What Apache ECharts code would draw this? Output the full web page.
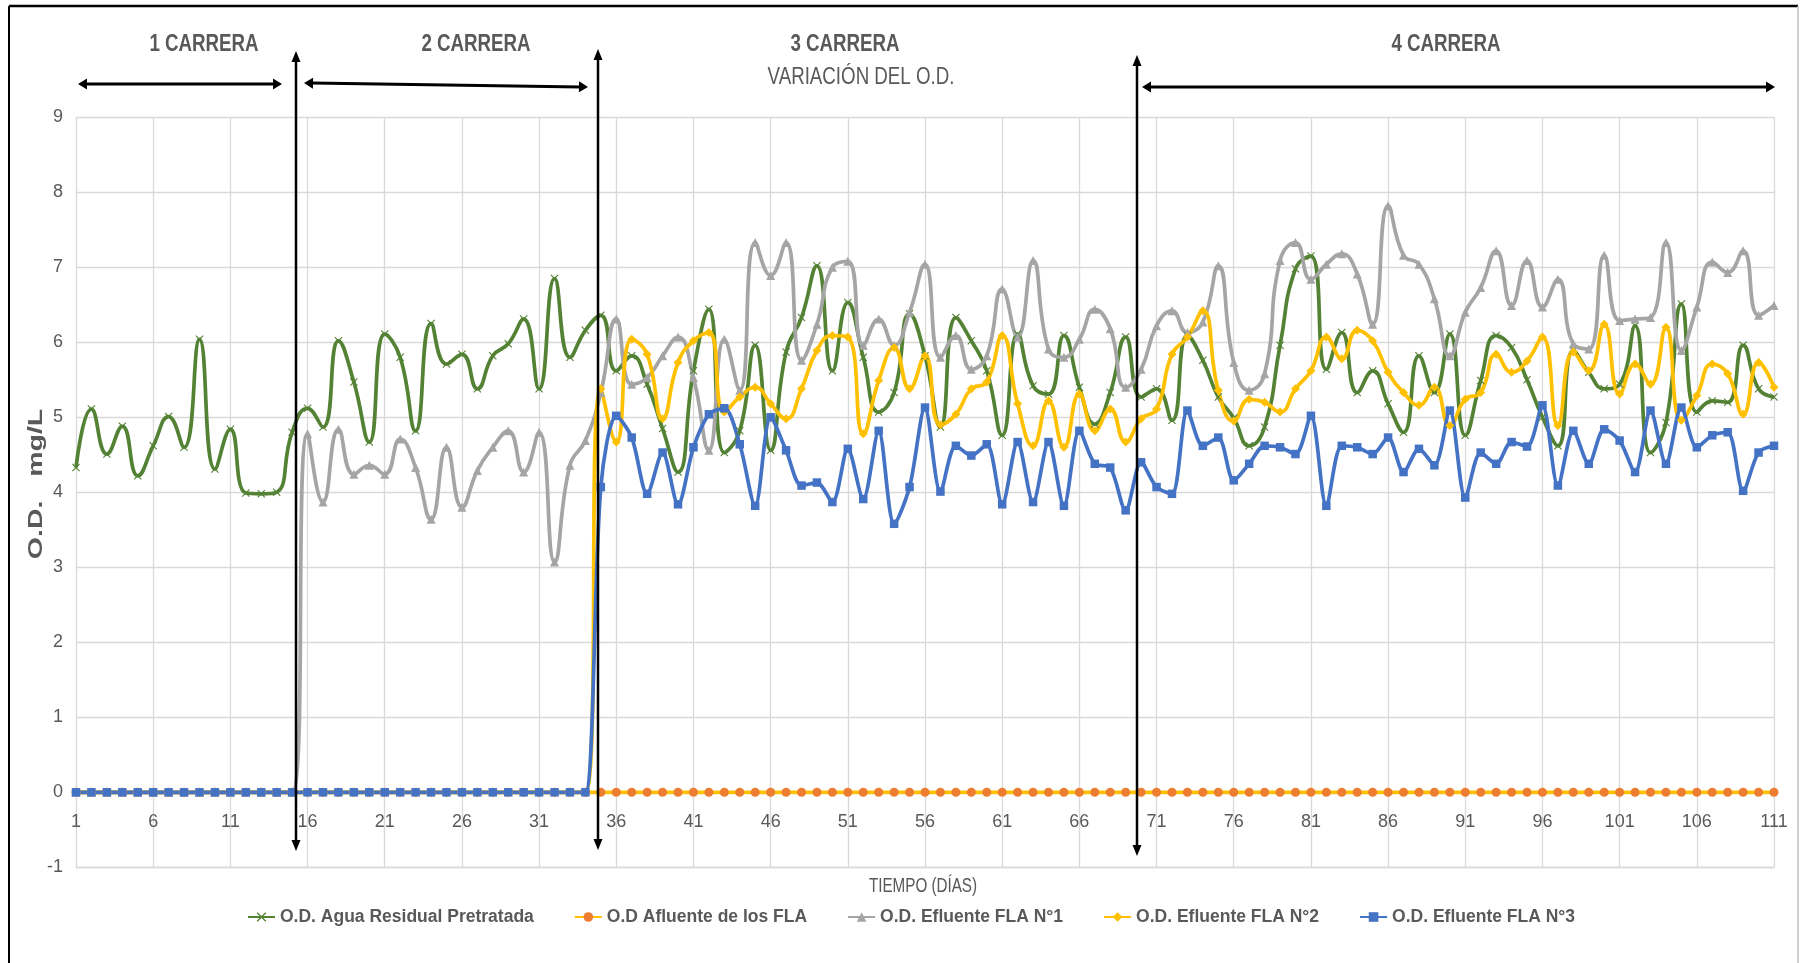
<!DOCTYPE html>
<html>
<head>
<meta charset="utf-8">
<script src="https://cdn.jsdelivr.net/npm/echarts@6/dist/echarts.min.js"></script>
<style>
html,body{margin:0;padding:0;background:#fff;}
#chart{width:1800px;height:963px;}
</style>
</head>
<body>
<div id="chart"></div>
<script>
// ---------- DATA ----------
const days = Array.from({length: 111}, (_, i) => String(i + 1));
const yTicks = [-1, 0, 1, 2, 3, 4, 5, 6, 7, 8, 9];

const seriesNames = [
  'O.D. Agua Residual Pretratada',
  'O.D Afluente de los FLA',
  'O.D. Efluente FLA N°1',
  'O.D. Efluente FLA N°2',
  'O.D. Efluente FLA N°3'
];

const aguaResidual = [
  4.33, 5.11, 4.51, 4.88, 4.22, 4.62, 5.01, 4.60, 6.04, 4.31,
  4.84, 3.99, 3.98, 4.00, 4.80, 5.12, 4.87, 6.02, 5.47, 4.67,
  6.11, 5.80, 4.82, 6.25, 5.71, 5.84, 5.38, 5.82, 5.98, 6.31,
  5.38, 6.85, 5.80, 6.16, 6.36, 5.62, 5.82, 5.44, 4.85, 4.27,
  5.62, 6.44, 4.53, 4.82, 5.96, 4.56, 5.87, 6.33, 7.02, 5.62,
  6.53, 5.80, 5.07, 5.33, 6.38, 5.82, 4.87, 6.33, 6.02, 5.62,
  4.76, 6.11, 5.42, 5.31, 6.09, 5.40, 4.91, 5.33, 6.07, 5.27,
  5.38, 4.96, 6.09, 5.76, 5.27, 4.99, 4.62, 4.87, 5.96, 6.98,
  7.15, 5.64, 6.13, 5.33, 5.62, 5.18, 4.80, 5.82, 5.33, 6.11,
  4.76, 5.49, 6.09, 5.93, 5.50, 5.00, 4.62, 5.89, 5.60, 5.38,
  5.44, 6.22, 4.53, 4.93, 6.51, 5.07, 5.22, 5.20, 5.96, 5.38,
  5.27
];

const afluente = [
  0,0,0,0,0,0,0,0,0,0, 0,0,0,0,0,0,0,0,0,0,
  0,0,0,0,0,0,0,0,0,0, 0,0,0,0,0,0,0,0,0,0,
  0,0,0,0,0,0,0,0,0,0, 0,0,0,0,0,0,0,0,0,0,
  0,0,0,0,0,0,0,0,0,0, 0,0,0,0,0,0,0,0,0,0,
  0,0,0,0,0,0,0,0,0,0, 0,0,0,0,0,0,0,0,0,0,
  0,0,0,0,0,0,0,0,0,0, 0
];

const efluente1 = [
  0, 0, 0, 0, 0, 0, 0, 0, 0, 0,
  0, 0, 0, 0, 0, 4.78, 3.87, 4.84, 4.24, 4.36,
  4.24, 4.71, 4.33, 3.64, 4.60, 3.80, 4.29, 4.60, 4.82, 4.27,
  4.80, 3.07, 4.36, 4.69, 5.33, 6.31, 5.44, 5.53, 5.82, 6.07,
  5.53, 4.56, 6.04, 5.36, 7.33, 6.89, 7.33, 5.76, 6.24, 7.00,
  7.08, 5.96, 6.31, 5.96, 6.40, 7.04, 5.80, 6.09, 5.64, 5.82,
  6.71, 6.07, 7.09, 5.91, 5.80, 6.04, 6.44, 6.18, 5.40, 5.64,
  6.22, 6.42, 6.13, 6.27, 7.02, 5.73, 5.36, 5.58, 7.09, 7.33,
  6.84, 7.04, 7.18, 6.91, 6.24, 7.82, 7.16, 7.04, 6.58, 5.82,
  6.40, 6.73, 7.22, 6.49, 7.09, 6.47, 6.84, 5.98, 5.91, 7.16,
  6.29, 6.31, 6.33, 7.33, 5.89, 6.47, 7.07, 6.93, 7.22, 6.36,
  6.49
];

const efluente2 = [
  0, 0, 0, 0, 0, 0, 0, 0, 0, 0,
  0, 0, 0, 0, 0, 0, 0, 0, 0, 0,
  0, 0, 0, 0, 0, 0, 0, 0, 0, 0,
  0, 0, 0, 0, 5.38, 4.67, 6.04, 5.84, 4.98, 5.73,
  6.02, 6.13, 5.07, 5.27, 5.40, 5.18, 4.98, 5.38, 5.89, 6.09,
  6.07, 4.78, 5.49, 5.93, 5.38, 5.82, 4.90, 5.04, 5.38, 5.47,
  6.09, 5.18, 4.62, 5.22, 4.60, 5.31, 4.82, 5.11, 4.67, 4.98,
  5.11, 5.84, 6.07, 6.42, 5.36, 4.95, 5.24, 5.20, 5.07, 5.38,
  5.62, 6.07, 5.78, 6.16, 6.02, 5.60, 5.33, 5.16, 5.40, 4.89,
  5.24, 5.33, 5.84, 5.60, 5.75, 6.07, 4.89, 5.87, 5.62, 6.24,
  5.31, 5.71, 5.44, 6.20, 4.96, 5.29, 5.71, 5.58, 5.04, 5.73,
  5.40
];

const efluente3 = [
  0, 0, 0, 0, 0, 0, 0, 0, 0, 0,
  0, 0, 0, 0, 0, 0, 0, 0, 0, 0,
  0, 0, 0, 0, 0, 0, 0, 0, 0, 0,
  0, 0, 0, 0, 4.07, 5.02, 4.73, 3.98, 4.53, 3.84,
  4.60, 5.04, 5.12, 4.64, 3.82, 5.00, 4.56, 4.09, 4.13, 3.87,
  4.58, 3.91, 4.82, 3.58, 4.07, 5.13, 4.01, 4.62, 4.49, 4.64,
  3.84, 4.67, 3.87, 4.67, 3.82, 4.82, 4.38, 4.33, 3.76, 4.40,
  4.07, 3.98, 5.09, 4.62, 4.73, 4.16, 4.38, 4.62, 4.60, 4.51,
  5.02, 3.82, 4.62, 4.60, 4.51, 4.73, 4.27, 4.58, 4.36, 5.09,
  3.93, 4.53, 4.38, 4.67, 4.61, 5.16, 4.09, 4.82, 4.38, 4.84,
  4.69, 4.27, 5.09, 4.38, 5.13, 4.60, 4.76, 4.80, 4.02, 4.53,
  4.62
];

const headerLabels = ['1 CARRERA', '2 CARRERA', '3 CARRERA', 'VARIACIÓN DEL O.D.', '4 CARRERA'];
const xAxisTitle = 'TIEMPO (DÍAS)';
const yAxisTitle = 'O.D.   mg/L';

// ---------- STYLE ----------
const NARROW = "'Liberation Sans Narrow','Arial Narrow','Liberation Sans',Arial,sans-serif";
const SANS = "'Liberation Sans',Arial,sans-serif";
const TXT = '#595959';
const GRID = '#D9D9D9';
const XSYM = 'path://M0,1 L1,0 L5,4 L9,0 L10,1 L6,5 L10,9 L9,10 L5,6 L1,10 L0,9 L4,5 Z';

function arrowLine(x1, y1, x2, y2, w, len, hw, both) {
  const dx = x2 - x1, dy = y2 - y1, L = Math.sqrt(dx*dx + dy*dy);
  const ux = dx / L, uy = dy / L, px = -uy, py = ux;
  const els = [];
  const sx = both ? x1 + ux*len*0.8 : x1, sy = both ? y1 + uy*len*0.8 : y1;
  const ex = x2 - ux*len*0.8, ey = y2 - uy*len*0.8;
  els.push({type:'line', silent:true, z:100, shape:{x1:sx, y1:sy, x2:ex, y2:ey}, style:{stroke:'#000', lineWidth:w}});
  const head = (tx, ty, dirx, diry) => ({
    type:'polygon', silent:true, z:100,
    shape:{points:[[tx, ty], [tx - dirx*len + px*hw, ty - diry*len + py*hw], [tx - dirx*len - px*hw, ty - diry*len - py*hw]]},
    style:{fill:'#000'}
  });
  els.push(head(x2, y2, ux, uy));
  if (both) els.push(head(x1, y1, -ux, -uy));
  return els;
}

function label(text, x, y, size, weight, sx, sy, rot) {
  return {
    type:'text', silent:true, z:100, x:x, y:y, rotation: rot || 0,
    scaleX: sx, scaleY: sy,
    style:{text:text, x:0, y:0, align:'center', verticalAlign:'middle',
      font: weight + ' ' + size + 'px ' + SANS, fill: TXT}
  };
}

const graphics = [].concat(
  // chart frame
  [{type:'line', silent:true, shape:{x1:9, y1:6, x2:1798, y2:6}, style:{stroke:'#000', lineWidth:2.5}},
   {type:'line', silent:true, shape:{x1:9, y1:6, x2:9, y2:963}, style:{stroke:'#000', lineWidth:2}},
   {type:'line', silent:true, shape:{x1:1798, y1:6, x2:1798, y2:963}, style:{stroke:'#BFBFBF', lineWidth:1.5}}],
  // header labels
  [label(headerLabels[0], 204, 44, 24, 'bold', 0.78, 1),
   label(headerLabels[1], 476, 44, 24, 'bold', 0.78, 1),
   label(headerLabels[2], 845, 44, 24, 'bold', 0.78, 1),
   label(headerLabels[3], 861, 77, 24, 'normal', 0.78, 1),
   label(headerLabels[4], 1446, 44, 24, 'bold', 0.78, 1),
   label(xAxisTitle, 923, 887, 19.5, 'normal', 0.78, 1),
   label(yAxisTitle, 36, 484, 28.5, 'bold', 1, 0.72, Math.PI / 2)],
  // horizontal double arrows
  arrowLine(78, 84, 282, 84, 3, 9, 5.5, true),
  arrowLine(304, 83, 588, 87, 3, 9, 5.5, true),
  arrowLine(1142, 87, 1775, 87, 3, 9, 5.5, true),
  // vertical double arrows
  arrowLine(296, 51, 296, 851, 2.5, 11, 4.5, true),
  arrowLine(598, 49, 598, 850, 2.5, 11, 4.5, true),
  arrowLine(1137, 55, 1137, 856, 2.5, 11, 4.5, true)
);

function mkSeries(name, data, lineColor, markColor, symbol, size, smooth) {
  return {
    name: name, type:'line', data: data, smooth: smooth,
    showAllSymbol: true, symbol: symbol, symbolSize: size,
    lineStyle:{color: lineColor, width: 3.7},
    itemStyle:{color: markColor, borderWidth: 0},
    emphasis:{disabled:true}
  };
}

const chart = echarts.init(document.getElementById('chart'), null, {renderer:'canvas'});
chart.setOption({
  animation:false,
  backgroundColor:'#fff',
  grid:{left:76, right:26, top:117.3, bottom:95.7, containLabel:false},
  legend:{
    left:242, top:903, itemWidth:27, itemHeight:12, itemGap:40,
    textStyle:{fontFamily:SANS, fontSize:17.5, fontWeight:'bold', color:TXT},
    data: seriesNames
  },
  xAxis:{
    type:'category', data: days, boundaryGap:false,
    axisLine:{show:true, onZero:false, lineStyle:{color:GRID, width:1.3}},
    axisTick:{show:false},
    axisLabel:{interval:4, margin:-54, color:TXT, fontSize:18, fontFamily:NARROW},
    splitLine:{show:true, interval:4, lineStyle:{color:GRID, width:1.3}}
  },
  yAxis:{
    type:'value', min:yTicks[0], max:yTicks[yTicks.length-1], interval:1,
    axisLine:{show:false}, axisTick:{show:false},
    axisLabel:{margin:13, color:TXT, fontSize:18, fontFamily:NARROW},
    splitLine:{show:true, lineStyle:{color:GRID, width:1.3}}
  },
  series:[
    mkSeries(seriesNames[0], aguaResidual, '#548235', '#548235', XSYM, 8, true),
    mkSeries(seriesNames[1], afluente, '#FFC000', '#ED7D31', 'circle', 9, true),
    mkSeries(seriesNames[2], efluente1, '#A5A5A5', '#A5A5A5', 'triangle', 9, true),
    mkSeries(seriesNames[3], efluente2, '#FFC000', '#FFC000', 'diamond', 9, true),
    mkSeries(seriesNames[4], efluente3, '#4472C4', '#4472C4', 'rect', 8.5, 0.3)
  ],
  graphic: graphics
});
</script>
</body>
</html>
